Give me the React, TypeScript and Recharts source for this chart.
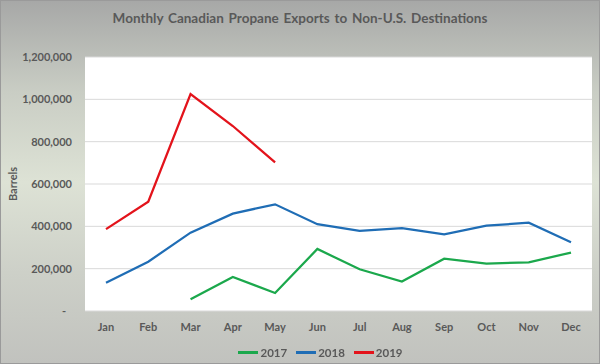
import { LineChart, Line, XAxis, YAxis, CartesianGrid, Legend } from "recharts";

const months = ["Jan", "Feb", "Mar", "Apr", "May", "Jun", "Jul", "Aug", "Sep", "Oct", "Nov", "Dec"];
const exports2017 = [null, null, 55000, 161000, 85000, 293000, 197000, 139000, 247000, 224000, 230000, 276000];
const exports2018 = [134000, 233000, 370000, 460000, 504000, 410000, 379000, 391000, 362000, 403000, 417000, 325000];
const exports2019 = [387000, 516000, 1025000, 874000, 702000, null, null, null, null, null, null, null];
const yTicks = [0, 200000, 400000, 600000, 800000, 1000000, 1200000];

const series = [
  { key: "y2017", name: "2017", color: "#1ba84c" },
  { key: "y2018", name: "2018", color: "#1f6db5" },
  { key: "y2019", name: "2019", color: "#e3131b" },
];

const data = months.map((m, i) => ({
  month: m,
  y2017: exports2017[i],
  y2018: exports2018[i],
  y2019: exports2019[i],
}));

const FONT = "Lato, 'Open Sans', sans-serif";
const TEXT = "#595959";

const YTick = ({ x, y, payload }: any) => {
  const v = payload.value;
  if (v === 0) {
    return (
      <text x={x - 6} y={y} dy="0.35em" textAnchor="end" fill={TEXT} fontSize={11} fontWeight={700} fontFamily={FONT}>
        -
      </text>
    );
  }
  return (
    <text x={x} y={y} dy="0.35em" textAnchor="end" fill={TEXT} fontSize={11} fontWeight={700} fontFamily={FONT}>
      {v.toLocaleString("en-US")}
    </text>
  );
};

const LegendBox = () => (
  <div style={{ display: "flex", justifyContent: "center", alignItems: "center", height: 23, fontFamily: FONT, fontSize: 11.5, fontWeight: 700, color: TEXT, paddingLeft: 58 }}>
    {series.map((s) => (
      <div key={s.key} style={{ display: "flex", alignItems: "center", marginRight: 9 }}>
        <div style={{ width: 20, height: 3, background: s.color, marginRight: 2 }} />
        <span>{s.name}</span>
      </div>
    ))}
  </div>
);

export default function App() {
  return (
    <div
      style={{
        position: "fixed",
        left: 0,
        top: 0,
        width: 600,
        height: 364,
        boxSizing: "border-box",
        border: "1px solid #9a9a9a",
        background: "linear-gradient(180deg, #a7a8a7 0%, #c9cdc4 25%, #dde2d5 50%, #cdd0c8 75%, #c1c2be 100%)",
        fontFamily: FONT,
      }}
    >
      <div
        style={{
          position: "absolute",
          top: 9,
          left: 0,
          width: "100%",
          textAlign: "center",
          fontSize: 13.5,
          fontWeight: 700,
          color: TEXT,
          wordSpacing: 1.5,
        }}
      >
        Monthly Canadian Propane Exports to Non-U.S. Destinations
      </div>
      <div style={{ position: "absolute", left: -1, top: -1 }}>
        <LineChart width={600} height={364} data={data} margin={{ top: 57, right: 8, bottom: 0, left: 0 }}>
          <CartesianGrid vertical={false} stroke="#d9d9d9" fill="#ffffff" />
          <XAxis
            dataKey="month"
            tickLine={false}
            axisLine={false}
            height={30}
            tickMargin={6}
            padding={{ left: 21, right: 21 }}
            tick={{ fill: TEXT, fontSize: 11, fontWeight: 700, fontFamily: FONT }}
          />
          <YAxis
            width={85}
            domain={[0, 1200000]}
            ticks={yTicks}
            tickLine={false}
            axisLine={false}
            tickMargin={7}
            tick={<YTick />}
            label={{
              value: "Barrels",
              angle: -90,
              position: "insideLeft",
              offset: 13,
              style: { fill: TEXT, fontSize: 11, fontWeight: 700, fontFamily: FONT, textAnchor: "middle" },
            }}
          />
          <Legend verticalAlign="bottom" content={<LegendBox />} />
          {series.map((s) => (
            <Line
              key={s.key}
              type="linear"
              dataKey={s.key}
              name={s.name}
              stroke={s.color}
              strokeWidth={2.25}
              dot={false}
              activeDot={false}
              isAnimationActive={false}
            />
          ))}
        </LineChart>
      </div>
    </div>
  );
}
